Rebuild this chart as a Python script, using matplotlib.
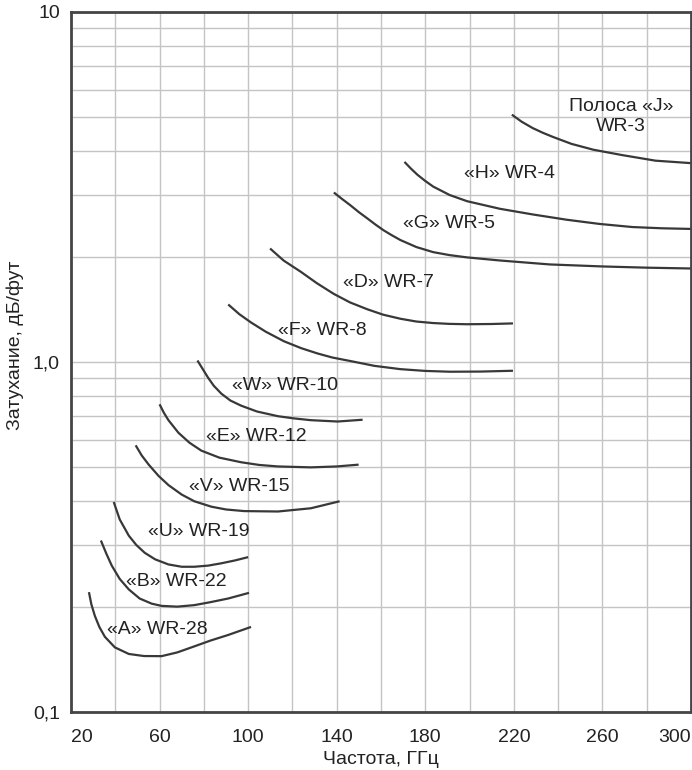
import numpy as np
import matplotlib
matplotlib.use("Agg")
import matplotlib.pyplot as plt
import matplotlib.ticker as mticker

plt.rcParams["font.family"] = ["Liberation Sans", "DejaVu Sans"]

# attenuation curves, frequency in GHz, attenuation in dB/ft
a_f = [28.1, 29.2, 30.8, 32.8, 35.3, 39.8, 46.1, 53, 60.9, 68, 75.7, 83, 91, 101.3]
a_v = [0.220, 0.203, 0.188, 0.175, 0.164, 0.153, 0.1465, 0.1445, 0.1444, 0.148, 0.154, 0.160, 0.166, 0.175]

b_f = [33.5, 36, 38.4, 42, 46.1, 51, 56.4, 60.9, 68, 75.7, 83, 91, 100.4]
b_v = [0.309, 0.283, 0.262, 0.240, 0.224, 0.211, 0.204, 0.201, 0.200, 0.202, 0.206, 0.211, 0.219]

u_f = [39.3, 42, 46.1, 49.5, 53.3, 58, 64, 70, 75.7, 82, 87.9, 94, 100]
u_v = [0.398, 0.355, 0.319, 0.300, 0.285, 0.273, 0.264, 0.260, 0.260, 0.262, 0.266, 0.271, 0.277]

v_f = [49.2, 52, 55.1, 59.5, 64, 70, 75.7, 83.4, 90, 98.2, 113.5, 128.3, 141.3]
v_v = [0.578, 0.54, 0.509, 0.473, 0.445, 0.418, 0.400, 0.386, 0.379, 0.375, 0.374, 0.382, 0.40]

e_f = [60, 62, 64, 68.5, 73.5, 78.9, 87, 96.9, 105, 113.5, 128.3, 140, 149.9]
e_v = [0.757, 0.715, 0.682, 0.628, 0.588, 0.558, 0.533, 0.517, 0.508, 0.503, 0.500, 0.503, 0.509]

w_f = [77.1, 78.9, 82, 84.5, 87.9, 92, 96.9, 104, 113.5, 120.7, 128.3, 140.4, 151.7]
w_v = [1.01, 0.968, 0.900, 0.855, 0.812, 0.776, 0.750, 0.722, 0.700, 0.690, 0.682, 0.676, 0.684]

f_f = [91, 96, 101.3, 108, 116.2, 124, 131.5, 138, 146.3, 157, 168.8, 180, 191.2, 205, 219.6]
f_v = [1.46, 1.37, 1.297, 1.22, 1.146, 1.095, 1.057, 1.03, 1.006, 0.975, 0.954, 0.943, 0.938, 0.939, 0.944]

d_f = [109.9, 116, 123.8, 131, 138.7, 146, 153.9, 161, 168.8, 176, 183.6, 191, 198.9, 210, 219.6]
d_v = [2.11, 1.95, 1.81, 1.68, 1.565, 1.48, 1.414, 1.365, 1.329, 1.305, 1.292, 1.285, 1.282, 1.284, 1.289]

g_f = [138.7, 142.5, 146.3, 150, 153.9, 157.5, 161.1, 165, 168.8, 176, 183.6, 191, 198.9, 213.7, 236.2, 260, 280, 300]
g_v = [3.05, 2.92, 2.80, 2.68, 2.57, 2.47, 2.38, 2.30, 2.23, 2.13, 2.06, 2.02, 1.99, 1.95, 1.90, 1.875, 1.86, 1.85]

h_f = [170.6, 173.5, 176.4, 180, 183.6, 191, 198.9, 213.7, 228.5, 243.8, 258.7, 273.5, 287, 300]
h_v = [3.73, 3.57, 3.43, 3.29, 3.17, 3.00, 2.88, 2.74, 2.64, 2.55, 2.48, 2.43, 2.41, 2.40]

j_f = [219.1, 223.5, 228.5, 233, 237.5, 246, 256, 269, 284, 300]
j_v = [5.09, 4.86, 4.66, 4.52, 4.40, 4.20, 4.04, 3.90, 3.76, 3.70]

curves = [(a_f, a_v), (b_f, b_v), (u_f, u_v), (v_f, v_v), (e_f, e_v), (w_f, w_v),
          (f_f, f_v), (d_f, d_v), (g_f, g_v), (h_f, h_v), (j_f, j_v)]

band_labels = ["«A» WR-28", "«B» WR-22", "«U» WR-19", "«V» WR-15", "«E» WR-12",
               "«W» WR-10", "«F» WR-8", "«D» WR-7", "«G» WR-5", "«H» WR-4"]
label_pos = [(59.1, 0.172), (67.6, 0.2355), (77.5, 0.328), (96, 0.441), (103.6, 0.611),
             (116.6, 0.856), (133.3, 1.23), (163.4, 1.69), (190.8, 2.48), (218.2, 3.45)]

x_ticks = [20, 60, 100, 140, 180, 220, 260, 300]
x_minor = [40, 80, 120, 160, 200, 240, 280]
y_ticks = [0.1, 1.0, 10]
y_tick_labels = ["0,1", "1,0", "10"]

W, H = 692, 770
fig = plt.figure(figsize=(W / 100, H / 100), dpi=100, facecolor="white")
ax = fig.add_axes([71 / W, 1 - 712 / H, 620 / W, 700 / H])

ax.set_yscale("log")
ax.set_xlim(20, 300)
ax.set_ylim(0.1, 10)

ax.set_xticks(x_ticks)
ax.set_xticks(x_minor, minor=True)
ax.set_yticks(y_ticks)
ax.set_yticklabels(y_tick_labels)
ax.yaxis.set_minor_locator(mticker.LogLocator(base=10, subs=np.arange(2, 10)))
ax.yaxis.set_minor_formatter(mticker.NullFormatter())

ax.grid(which="both", color="#c4c4c4", linewidth=1.0, zorder=0)
ax.tick_params(which="both", length=0, labelsize=14, colors="#222222")
ax.tick_params(axis="x", pad=12)
ax.tick_params(axis="y", pad=8)

xl = ax.get_xticklabels()
xl[0].set_ha("left")
xl[-1].set_ha("right")

for s in ax.spines.values():
    s.set_color("#454545")
    s.set_linewidth(2.0)
    s.set_zorder(5)

for fx, vy in curves:
    ax.plot(fx, vy, color="#383838", linewidth=1.6, solid_capstyle="butt",
            solid_joinstyle="round", zorder=3)

for txt, (lx, ly) in zip(band_labels, label_pos):
    ax.text(lx, ly, txt, fontsize=14, color="#222222", ha="center", va="center", zorder=4)

ax.text(268.5, 5.38, "Полоса «J»", fontsize=14, color="#222222", ha="center", va="center")
ax.text(268.5, 4.70, "WR-3", fontsize=14, color="#222222", ha="center", va="center")

fig.text(381 / W, 1 - 759 / H, "Частота, ГГц", fontsize=14, color="#222222",
         ha="center", va="center")
fig.text(15 / W, 1 - 345 / H, "Затухание, дБ/фут", fontsize=14, color="#222222",
         ha="center", va="center", rotation=90)

fig.savefig("out.png", dpi=100, facecolor="white")
